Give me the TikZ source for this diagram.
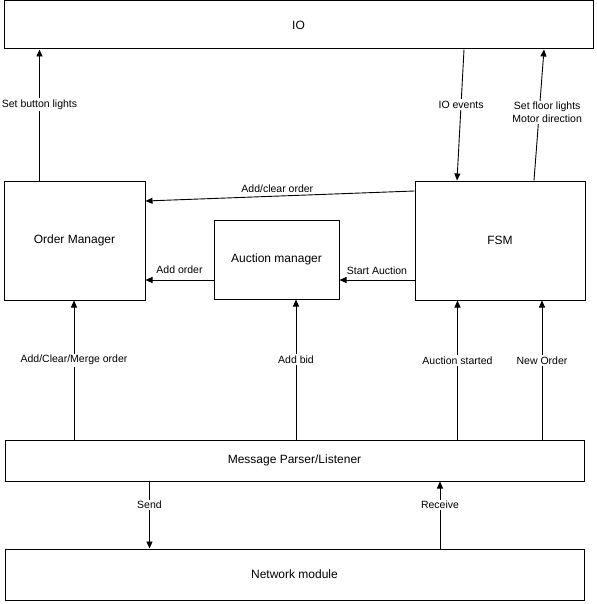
\documentclass[tikz,border=0pt]{standalone}
\usepackage{fontspec}
\setmainfont{Liberation Sans}
\usetikzlibrary{arrows.meta}

\begin{document}
\begin{tikzpicture}[x=1pt,y=-1pt,
	block/.style={draw, line width=1pt, inner sep=0pt, font=\fontsize{12}{14}\selectfont},
	arr/.style={-{Triangle[length=7pt,width=6pt]}, line width=0.9pt},
	lbl/.style={fill=white, inner sep=1.5pt, align=center, font=\fontsize{10.5}{12.5}\selectfont}]

				\useasboundingbox (0,0) rectangle (596,604);

				% Modules
				\node[block, minimum width=589pt, minimum height=48pt] (io) at (298.5,25) {IO};
				\node[block, minimum width=141pt, minimum height=119pt] (om) at (74.5,240.5) {Order Manager};
				\node[block, minimum width=125pt, minimum height=79pt] (am) at (276.5,259.5) {Auction manager};
				\node[block, minimum width=170pt, minimum height=119pt] (fsm) at (500,240.5) {FSM};
				\node[block, minimum width=579pt, minimum height=41pt] (mp) at (294.5,460.5) {Message Parser/Listener};
				\node[block, minimum width=579pt, minimum height=51pt] (net) at (294.5,574.5) {Network module};

				% To and from IO
				\draw[arr] (om.north -| 39.5,0) -- (io.south -| 39.5,0) node[lbl, pos=0.58] {Set button lights};
				\draw[arr] (io.south -| 464,0) -- (fsm.north -| 457,0) node[lbl, pos=0.42] {IO events};
				\draw[arr] (fsm.north -| 534,0) -- (io.south -| 544,0) node[lbl, pos=0.52, xshift=8pt] {Set floor lights\\Motor direction};

				% Between the modules
				\draw[arr] (fsm.west |- 0,191) -- (om.east |- 0,201) node[pos=0.51, above, font=\fontsize{10.5}{12.5}\selectfont] {Add/clear order};
				\draw[arr] (am.west |- 0,280) -- (om.east |- 0,280) node[midway, above=3pt, font=\fontsize{10.5}{12.5}\selectfont] {Add order};
				\draw[arr] (fsm.west |- 0,280) -- (am.east |- 0,280) node[midway, above=2pt, font=\fontsize{10.5}{12.5}\selectfont] {Start Auction};

				% From the message parser
				\draw[arr] (mp.north -| 74,0) -- (om.south -| 74,0) node[lbl, pos=0.57] {Add/Clear/Merge order};
				\draw[arr] (mp.north -| 296,0) -- (am.south -| 296,0) node[lbl, pos=0.57] {Add bid};
				\draw[arr] (mp.north -| 457.5,0) -- (fsm.south -| 457.5,0) node[lbl, pos=0.57] {Auction started};
				\draw[arr] (mp.north -| 542,0) -- (fsm.south -| 542,0) node[lbl, pos=0.57] {New Order};

				% Network
				\draw[arr] (mp.south -| 149.5,0) -- (net.north -| 149.5,0) node[lbl, pos=0.35] {Send};
				\draw[arr] (net.north -| 440,0) -- (mp.south -| 440,0) node[lbl, pos=0.65] {Receive};

\end{tikzpicture}
\end{document}
